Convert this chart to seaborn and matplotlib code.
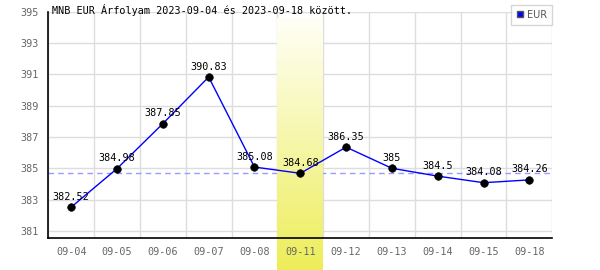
import matplotlib
matplotlib.use("Agg")
import matplotlib.pyplot as plt
import matplotlib.transforms as mtrans
from matplotlib.lines import Line2D
import numpy as np
import pandas as pd
import seaborn as sns

dates = ["09-04", "09-05", "09-06", "09-07", "09-08", "09-11",
         "09-12", "09-13", "09-14", "09-15", "09-18"]
rates = [382.52, 384.98, 387.85, 390.83, 385.08, 384.68,
         386.35, 385.00, 384.50, 384.08, 384.26]
highlight_date = "09-11"
reference_rate = 384.68
y_ticks = [381, 383, 385, 387, 389, 391, 393, 395]
title = "MNB EUR Árfolyam 2023-09-04 és 2023-09-18 között."
series_name = "EUR"

sns.set_theme(style="white")
plt.rcParams["font.family"] = ["DejaVu Sans Mono", "DejaVu Sans"]

df = pd.DataFrame({"date": dates, "rate": rates, "pos": np.arange(len(dates))})

fig = plt.figure(figsize=(6, 2.7), dpi=100)
ax = fig.add_axes([48.3 / 600, 1 - 238.3 / 270, (552.3 - 48.3) / 600, (238.3 - 11.7) / 270])
ax.set_facecolor("white")

# grid lines drawn manually (under the highlight band)
for yv in y_ticks:
    ax.axhline(yv, color="#dddddd", lw=1, zorder=0.3)
for k in range(len(dates) + 1):
    ax.axvline(k - 0.5, color="#dddddd", lw=1, zorder=0.3)

# reference dashed line (under the band)
ax.axhline(reference_rate, color="#9999ff", lw=1, ls=(0, (4, 3)), zorder=0.35)

# highlight band with vertical gradient
hi = dates.index(highlight_date)
grad = np.linspace(0, 1, 256)[:, None]
top = np.array([1.0, 1.0, 0.97])
bot = np.array([0.93, 0.93, 0.35])
img = top[None, None, :] * (1 - grad[:, :, None]) + bot[None, None, :] * grad[:, :, None]
trans = mtrans.blended_transform_factory(ax.transData, fig.transFigure)
ax.imshow(img, extent=[hi - 0.5, hi + 0.5, 0, 1 - 18 / 270], origin="upper",
          transform=trans, aspect="auto", clip_on=False, zorder=0.4)

sns.lineplot(data=df, x="pos", y="rate", ax=ax, color="#0000ff", lw=1, zorder=2,
             legend=False)
sns.scatterplot(data=df, x="pos", y="rate", ax=ax, color="black", s=30,
                edgecolor="black", zorder=3, legend=False)

for p, v in zip(df["pos"], df["rate"]):
    ax.annotate(f"{v:g}", (p, v), xytext=(0, 7.5), textcoords="offset points",
                ha="center", va="center", fontsize=7.3, color="black", zorder=4)

ax.set_xlim(-0.5, len(dates) - 0.5)
ax.set_ylim(380.53, 395)
ax.set_xticks(df["pos"])
ax.set_xticklabels(dates)
ax.set_yticks(y_ticks)
ax.set_yticklabels([str(t) for t in y_ticks])
ax.set_xlabel("")
ax.set_ylabel("")
ax.tick_params(axis="x", length=0, pad=6, labelsize=7.3, labelcolor="#666666")
ax.tick_params(axis="y", length=4, color="#dddddd", pad=3, labelsize=7.3,
               labelcolor="#666666")

for s in ["top", "right"]:
    ax.spines[s].set_visible(False)
for s in ["left", "bottom"]:
    ax.spines[s].set_color("black")
    ax.spines[s].set_linewidth(1.2)

fig.text(52 / 600, 1 - 10 / 270, title, ha="left", va="center", fontsize=7.3,
         color="black")

handle = Line2D([], [], marker="s", color="none", markerfacecolor="#0000ff",
                markeredgecolor="#555555", markersize=5)
leg = fig.legend([handle], [series_name], loc="upper right",
                 bbox_to_anchor=(552 / 600, 1 - 5 / 270), borderaxespad=0,
                 fancybox=False, frameon=True, edgecolor="#cccccc",
                 prop={"family": "DejaVu Sans", "size": 7}, labelcolor="#555555",
                 handlelength=0.8, handletextpad=0.3, borderpad=0.5)
leg.get_frame().set_linewidth(1)

fig.savefig("out.png", dpi=100)
